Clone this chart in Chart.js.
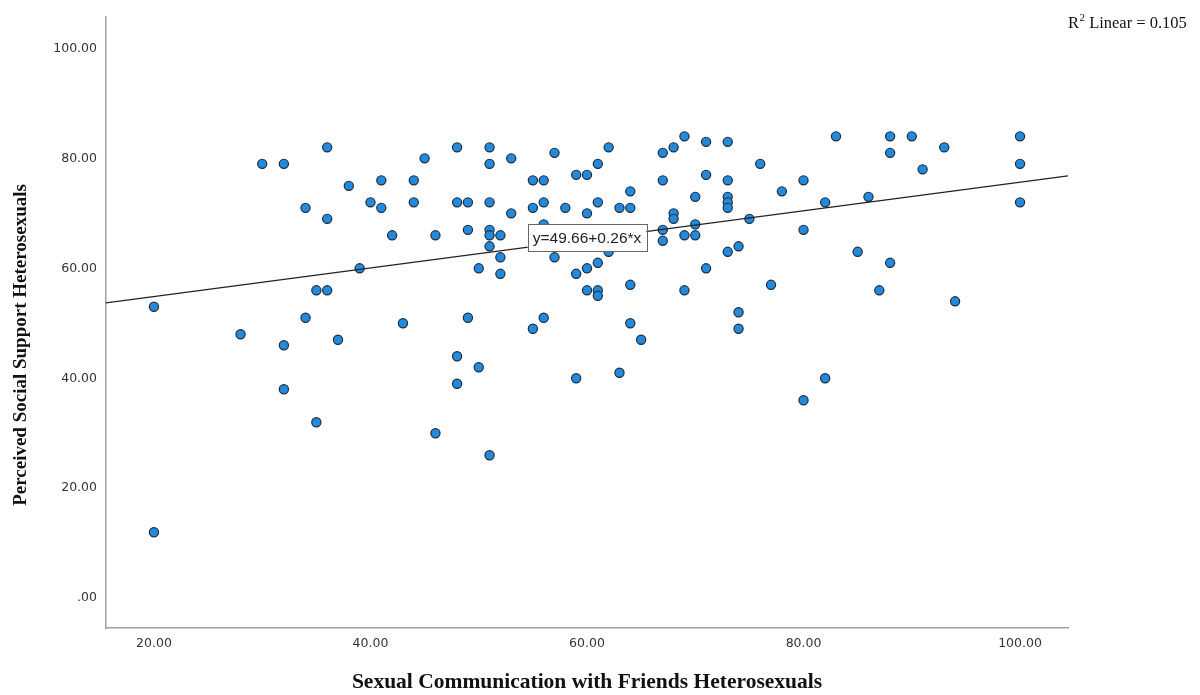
<!DOCTYPE html>
<html>
<head>
<meta charset="utf-8">
<script src="https://cdn.jsdelivr.net/npm/chart.js@4/dist/chart.umd.min.js"></script>
<style>
  html, body { margin: 0; padding: 0; background: #fff; }
  #wrap { width: 1200px; height: 695px; }
</style>
</head>
<body>
<div id="wrap"><canvas id="myChart" width="1200" height="695"></canvas></div>
<script>
  // Sexual communication with friends (x) vs perceived social support (y)
  const commScores = [
    20, 20, 28, 30, 32, 32, 32, 34, 34, 35, 35, 36, 36, 36, 37, 38, 39, 40, 41, 41,
    42, 43, 44, 44, 45, 46, 46, 48, 48, 48, 48, 49, 49, 49, 50, 50, 51, 51, 51, 51,
    51, 51, 51, 52, 52, 52, 53, 53, 55, 55, 55, 56, 56, 56, 56, 57, 57, 58, 59, 59,
    59, 60, 60, 60, 60, 61, 61, 61, 61, 61, 62, 62, 63, 63, 64, 64, 64, 64, 65, 67,
    67, 67, 67, 68, 68, 68, 69, 69, 69, 70, 70, 70, 71, 71, 71, 73, 73, 73, 73, 73,
    73, 74, 74, 74, 75, 76, 77, 78, 80, 80, 80, 82, 82, 83, 85, 86, 87, 88, 88, 88,
    90, 91, 93, 94, 100, 100, 100
  ];
  const supportScores = [
    53, 12, 48, 79, 79, 46, 38, 71, 51, 32, 56, 82, 69, 56, 47, 75, 60, 72, 76, 71,
    66, 50, 76, 72, 80, 66, 30, 82, 72, 44, 39, 72, 67, 51, 60, 42, 82, 79, 72, 67,
    66, 64, 26, 66, 62, 59, 80, 70, 76, 71, 49, 76, 72, 68, 51, 81, 62, 71, 77, 59,
    40, 77, 70, 60, 56, 79, 72, 61, 56, 55, 82, 63, 71, 41, 74, 71, 57, 50, 47, 81,
    76, 67, 65, 82, 70, 69, 84, 66, 56, 73, 68, 66, 83, 77, 60, 83, 76, 73, 72, 71,
    63, 64, 52, 49, 69, 79, 57, 74, 76, 67, 36, 72, 40, 84, 63, 73, 56, 84, 81, 61,
    84, 78, 82, 54, 84, 79, 72
  ];

  const xTicks = [20, 40, 60, 80, 100];
  const yTicks = [0, 20, 40, 60, 80, 100];
  const xRange = [15.57, 104.43];
  const yRange = [-5.42, 105.8];

  // fitted line y = a + b*x and its R squared
  const fitIntercept = 49.66;
  const fitSlope = 0.26;
  const rSquared = 0.105;

  const xTitle = 'Sexual Communication with Friends Heterosexuals';
  const yTitle = 'Perceived Social Support Heterosexuals';

  const points = commScores.map((x, i) => ({ x: x, y: supportScores[i] }));
  const fitLine = xRange.map(x => ({ x: x, y: fitIntercept + fitSlope * x }));

  const fmtTick = v => (v === 0 ? '.00' : v.toFixed(2));

  const tickFont = { family: '"DejaVu Sans", Verdana, sans-serif', size: 12.5 };
  const serif = '"Liberation Serif", "Times New Roman", serif';

  // axis titles, equation box and R squared note
  const extras = {
    id: 'extras',
    afterDatasetsDraw(chart) {
      const { ctx, scales } = chart;
      const label = 'y=' + fitIntercept.toFixed(2) + '+' + fitSlope.toFixed(2) + '*x';
      ctx.save();
      ctx.font = '15.5px "Liberation Sans", Arial, sans-serif';
      const w = ctx.measureText(label).width + 10;
      const h = 27;
      const cx = scales.x.getPixelForValue(60);
      const cy = scales.y.getPixelForValue(65.6);
      ctx.fillStyle = '#fff';
      ctx.fillRect(cx - w / 2, cy - h / 2, w, h);
      ctx.strokeStyle = '#666';
      ctx.lineWidth = 1;
      ctx.strokeRect(Math.round(cx - w / 2) + 0.5, Math.round(cy - h / 2) + 0.5, Math.round(w), h);
      ctx.fillStyle = '#222';
      ctx.textAlign = 'center';
      ctx.textBaseline = 'middle';
      ctx.fillText(label, cx, cy + 1);
      ctx.restore();
    },
    afterDraw(chart) {
      const { ctx, chartArea } = chart;
      ctx.save();
      ctx.fillStyle = '#111';
      ctx.textAlign = 'center';
      ctx.textBaseline = 'middle';
      ctx.font = 'bold 21.5px ' + serif;
      ctx.fillText(xTitle, (chartArea.left + chartArea.right) / 2, 682);
      ctx.font = 'bold 19px ' + serif;
      ctx.translate(21, 345);
      ctx.rotate(-Math.PI / 2);
      ctx.fillText(yTitle, 0, 0);
      ctx.restore();

      // R² Linear note, top right
      ctx.save();
      ctx.fillStyle = '#111';
      ctx.textBaseline = 'alphabetic';
      ctx.textAlign = 'left';
      let x = chartArea.right;
      ctx.font = '16.5px ' + serif;
      ctx.fillText('R', x, 28);
      x += ctx.measureText('R').width;
      ctx.font = '11px ' + serif;
      ctx.fillText('2', x + 0.5, 21);
      x += ctx.measureText('2').width + 0.5;
      ctx.font = '16.5px ' + serif;
      ctx.fillText(' Linear = ' + rSquared.toFixed(3), x, 28);
      ctx.restore();
    }
  };

  const data = {
    datasets: [
      {
        type: 'line',
        label: 'Fit',
        data: fitLine,
        borderColor: '#222',
        borderWidth: 1.2,
        pointRadius: 0,
        fill: false,
        order: 0
      },
      {
        type: 'scatter',
        label: 'Respondents',
        data: points,
        backgroundColor: '#2389d8',
        borderColor: '#1b2d42',
        borderWidth: 1.2,
        pointRadius: 4.6,
        order: 1
      }
    ]
  };

  const config = {
    type: 'scatter',
    data: data,
    plugins: [extras],
    options: {
      responsive: false,
      animation: false,
      devicePixelRatio: 1,
      layout: { padding: { left: 0, right: 132, top: 13, bottom: 0 } },
      plugins: {
        legend: { display: false },
        tooltip: { enabled: false }
      },
      scales: {
        x: {
          type: 'linear',
          min: xRange[0],
          max: xRange[1],
          afterBuildTicks: s => { s.ticks = xTicks.map(v => ({ value: v })); },
          afterFit: s => { s.height = 67; },
          grid: { display: false, drawTicks: false },
          border: { display: true, color: '#a0a0a0', width: 1.5 },
          ticks: { callback: fmtTick, color: '#333', font: tickFont, padding: 8, maxRotation: 0 }
        },
        y: {
          type: 'linear',
          min: yRange[0],
          max: yRange[1],
          afterBuildTicks: s => { s.ticks = yTicks.map(v => ({ value: v })); },
          afterFit: s => { s.width = 106; },
          grid: { display: false, drawTicks: false },
          border: { display: true, color: '#a0a0a0', width: 1.5 },
          ticks: { callback: fmtTick, color: '#333', font: tickFont, padding: 9 }
        }
      }
    }
  };

  const myChart = new Chart(document.getElementById('myChart'), config);
</script>
</body>
</html>
